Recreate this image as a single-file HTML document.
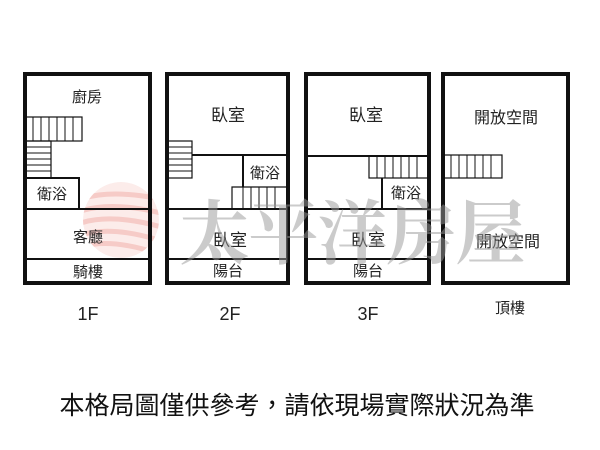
<!DOCTYPE html>
<html><head><meta charset="utf-8"><style>
html,body{margin:0;padding:0;background:#fff;}
svg{display:block}
text{font-family:"Liberation Sans","Noto Sans CJK TC",sans-serif;fill:#222;}
</style></head><body>
<svg width="600" height="450" viewBox="0 0 600 450" xmlns="http://www.w3.org/2000/svg">
<defs>
<clipPath id="lc"><circle cx="121" cy="220" r="38"/></clipPath>
</defs>
<!-- logo watermark -->
<g clip-path="url(#lc)" opacity="0.35">
<circle cx="121" cy="220" r="38" fill="#f6c9c4"/>
<g fill="none" stroke="#e56a5f" stroke-width="5">
<path d="M78 200 Q110 188 165 200"/>
<path d="M78 212 Q110 200 165 214"/>
<path d="M78 224 Q110 212 165 228"/>
<path d="M78 236 Q110 224 165 242"/>
<path d="M78 248 Q110 236 165 256"/>
</g>
</g>

<g fill="none" stroke="#111">
<!-- building 1 -->
<rect x="25" y="74" width="125" height="209" stroke-width="4"/>
<line x1="25" y1="209" x2="150" y2="209" stroke-width="2"/>
<line x1="25" y1="259" x2="150" y2="259" stroke-width="2"/>
<rect x="25" y="178" width="54" height="31" stroke-width="2"/>
<rect x="25" y="117" width="57" height="24" stroke-width="1.2"/>
<path d="M33 117V141M41 117V141M49 117V141M57 117V141M65 117V141M73 117V141" stroke-width="1"/>
<rect x="25" y="141" width="26" height="37" stroke-width="1.2"/>
<path d="M25 147H51M25 153H51M25 159H51M25 165H51M25 171H51" stroke-width="1"/>

<!-- building 2 -->
<rect x="167" y="74" width="121" height="209" stroke-width="4"/>
<line x1="167" y1="209" x2="288" y2="209" stroke-width="2"/>
<line x1="167" y1="259" x2="288" y2="259" stroke-width="2"/>
<line x1="192" y1="155" x2="288" y2="155" stroke-width="2"/>
<rect x="167" y="141" width="25" height="37" stroke-width="1.2"/>
<path d="M167 147H192M167 153H192M167 159H192M167 165H192M167 171H192" stroke-width="1"/>
<line x1="243" y1="155" x2="243" y2="187" stroke-width="2"/>
<path d="M232 209V187H288" stroke-width="1.2"/>
<path d="M243 187V209M251 187V209M259 187V209M267 187V209M275 187V209" stroke-width="1"/>

<!-- building 3 -->
<rect x="306" y="74" width="123" height="209" stroke-width="4"/>
<line x1="306" y1="156" x2="429" y2="156" stroke-width="2"/>
<line x1="306" y1="209" x2="429" y2="209" stroke-width="2"/>
<line x1="306" y1="259" x2="429" y2="259" stroke-width="2"/>
<rect x="369" y="156" width="60" height="22" stroke-width="1.2"/>
<path d="M377 156V178M385 156V178M393 156V178M401 156V178M409 156V178M417 156V178" stroke-width="1"/>
<line x1="382" y1="178" x2="382" y2="209" stroke-width="2"/>

<!-- building 4 -->
<rect x="443" y="74" width="125" height="209" stroke-width="4"/>
<rect x="443" y="155" width="59" height="23" stroke-width="1.2"/>
<path d="M451 155V178M459 155V178M467 155V178M475 155V178M483 155V178M491 155V178" stroke-width="1"/>
</g>

<g font-size="15" text-anchor="middle">
<text x="87" y="102">廚房</text>
<text x="52" y="199">衛浴</text>
<text x="88" y="242">客廳</text>
<text x="88" y="277">騎樓</text>
<text x="228" y="121" font-size="17">臥室</text>
<text x="265" y="178">衛浴</text>
<text x="230" y="246" font-size="17">臥室</text>
<text x="228" y="276">陽台</text>
<text x="366" y="121" font-size="17">臥室</text>
<text x="406" y="198">衛浴</text>
<text x="368" y="246" font-size="17">臥室</text>
<text x="368" y="276">陽台</text>
<text x="506" y="123" font-size="16">開放空間</text>
<text x="508" y="247" font-size="16">開放空間</text>
<text x="88" y="320" font-size="18">1F</text>
<text x="230" y="320" font-size="18">2F</text>
<text x="368" y="320" font-size="18">3F</text>
<text x="510" y="313" font-size="15">頂樓</text>
</g>
<text x="352" y="258" text-anchor="middle" font-size="70" font-weight="bold" style="font-family:'Noto Serif CJK SC','Liberation Serif',serif;fill:#999" opacity="0.5" letter-spacing="-1">太平洋房屋</text>
<text x="297" y="414" font-size="25" text-anchor="middle" style="fill:#111">本格局圖僅供參考，請依現場實際狀況為準</text>
</svg>
</body></html>
